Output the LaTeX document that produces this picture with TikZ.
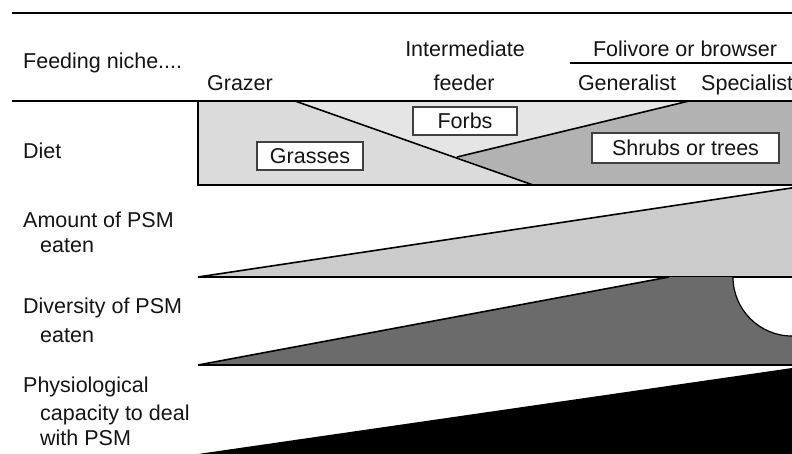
\documentclass[tikz,border=0pt]{standalone}
\usepackage{fontspec}
\setmainfont{Liberation Sans}
\begin{document}
\begin{tikzpicture}[x=1pt,y=-1pt,
  txt/.style={inner sep=0pt, text=black!92, font=\fontsize{21.5}{25}\selectfont},
  lbl/.style={txt, anchor=base west},
  hdr/.style={txt, anchor=base},
  tag/.style={txt, draw=black!75, line width=1.2pt, fill=white, inner sep=0pt, minimum height=28pt},
  rulethin/.style={line width=1.5pt},
  rulethick/.style={line width=2.4pt},
  edge/.style={line width=1.6pt},
  grassfill/.style={fill=black!14},
  forbfill/.style={fill=black!10},
  shrubfill/.style={fill=black!30},
  amountfill/.style={fill=black!20},
  diversfill/.style={fill=black!58},
]
\useasboundingbox (0,0) rectangle (792,453);
\clip (0,0) rectangle (792,453);

% coordinates
\coordinate (tl) at (12,13);   \coordinate (tr) at (810,13);
\coordinate (hl) at (12,101);  \coordinate (hr) at (810,101);
\coordinate (dtl) at (198,101); \coordinate (dbl) at (198,185); \coordinate (dbr) at (810,185);
\coordinate (l1a) at (295,101); \coordinate (l1b) at (533,185);
\coordinate (meet) at (457,157); \coordinate (l2b) at (689,101);
\coordinate (atip) at (198,277); \coordinate (atop) at (810,185.2); \coordinate (abr) at (810,277);
\coordinate (dtip) at (198,365); \coordinate (dtop) at (669,277); \coordinate (arcA) at (733,277);
\coordinate (arcB) at (792,336); \coordinate (arcC) at (810,336); \coordinate (dbr2) at (810,365);
\coordinate (ptip) at (198,454); \coordinate (ptop) at (810,365.4); \coordinate (pbr) at (810,460); \coordinate (pbl) at (198,460);
\coordinate (ul) at (570,63); \coordinate (ur) at (810,63);

% diet regions
\fill[grassfill] (dtl) -- (l1a) -- (l1b) -- (dbl) -- cycle;
\fill[forbfill] (l1a) -- (l2b) -- (meet) -- cycle;
\fill[shrubfill] (meet) -- (l2b) -- (hr) -- (dbr) -- (l1b) -- cycle;
\draw[edge] (l1a) -- (l1b);
\draw[edge] (meet) -- (l2b);
\draw[rulethick] (dtl) -- (dbl) -- (dbr);

% amount wedge
\filldraw[amountfill, edge] (atip) -- (atop) -- (abr) -- cycle;
\draw[rulethick] (atip) -- (abr);

% diversity wedge
\fill[diversfill] (dtip) -- (dtop) -- (arcA) .. controls (733,309.6) and (759.4,336) .. (arcB) -- (arcC) -- (dbr2) -- cycle;
\draw[edge] (dtip) -- (dtop);
\draw[line width=1.2pt] (arcA) .. controls (733,309.6) and (759.4,336) .. (arcB);
\draw[rulethick] (dtip) -- (dbr2);

% physiological wedge
\fill[black] (ptip) -- (ptop) -- (pbr) -- (pbl) -- cycle;

% header rules
\draw[rulethin] (tl) -- (tr);
\draw[rulethick] (hl) -- (hr);
\draw[line width=1.2pt] (ul) -- (ur);

% header text
\node[lbl] (feed) at (23,68) {Feeding niche....};
\node[hdr] (grazer) at (240,90) {Grazer};
\node[hdr] (inter) at (465,56) {Intermediate};
\node[hdr] (feeder) at (464,90) {feeder};
\node[hdr] (foli) at (685,56) {Folivore or browser};
\node[hdr] (gen) at (627,90) {Generalist};
\node[lbl] (spec) at (701,90) {Specialist};

% boxes in diet
\node[tag, minimum width=106pt] (grasses) at (310,156) {Grasses};
\node[tag, minimum width=104pt] (forbs) at (465,121) {Forbs};
\node[tag, minimum width=187pt, minimum height=30pt] (shrubs) at (685.5,148) {Shrubs or trees};

% row labels
\node[lbl] (diet) at (23,158) {Diet};
\node[lbl] (amt1) at (23,227) {Amount of PSM};
\node[lbl] (amt2) at (40,252) {eaten};
\node[lbl] (div1) at (23,313) {Diversity of PSM};
\node[lbl] (div2) at (40,342) {eaten};
\node[lbl] (phy1) at (23,392) {Physiological};
\node[lbl] (phy2) at (40,420) {capacity to deal};
\node[lbl] (phy3) at (40,445) {with PSM};
\end{tikzpicture}
\end{document}
